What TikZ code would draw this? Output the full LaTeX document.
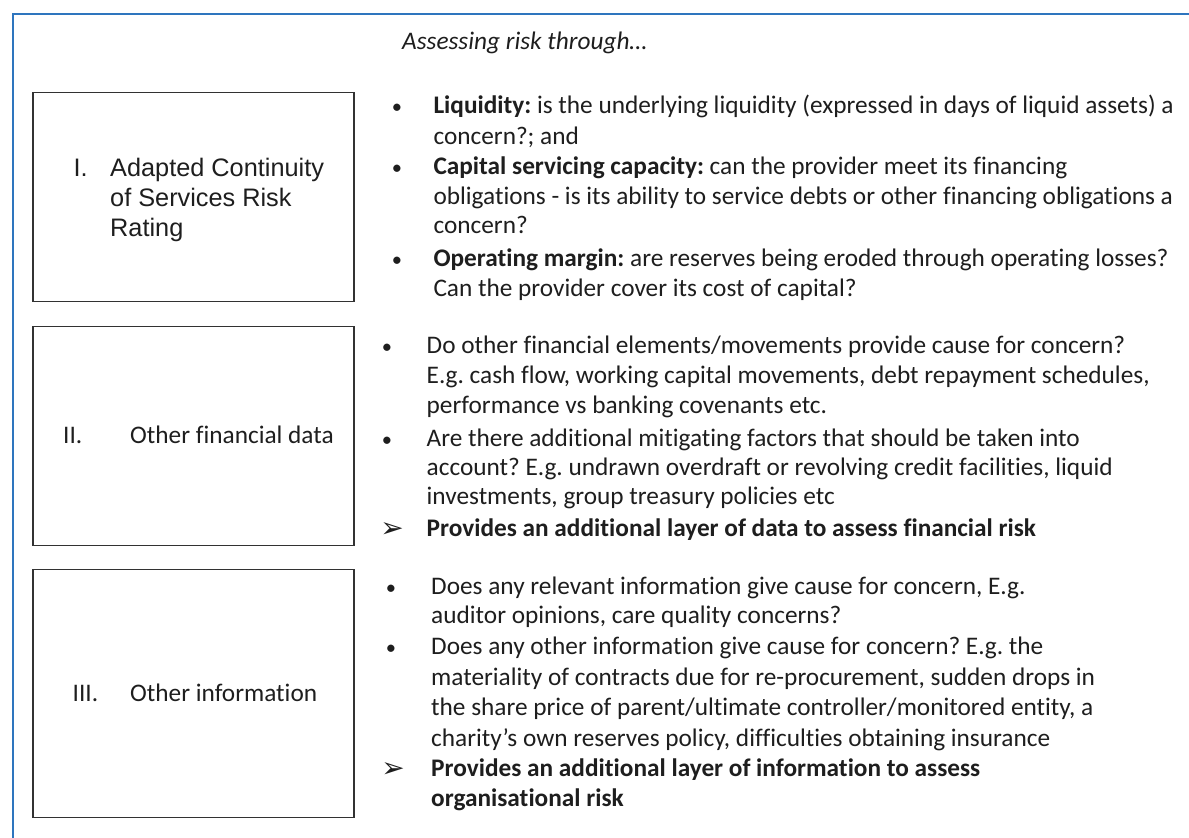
\documentclass[tikz,border=0pt]{standalone}
\usepackage{fontspec}
\setmainfont{Carlito}[Ligatures=NoCommon]
\newfontfamily\arialf{Liberation Sans}
\newfontfamily\symf{DejaVu Sans}
\definecolor{frameblue}{RGB}{46,117,190}
\definecolor{txt}{RGB}{30,30,30}
\definecolor{boxline}{RGB}{50,50,50}
\newcommand{\bodyfont}{\frenchspacing\fontsize{25.3}{30}\selectfont}
\newcommand{\labfont}{\frenchspacing\arialf\fontsize{25.3}{30}\selectfont}
\tikzset{
  body/.style={anchor=base west, inner sep=0pt, font=\bodyfont, text=txt},
  lab/.style={anchor=base west, inner sep=0pt, font=\labfont, text=txt},
  bul/.style={anchor=base, inner sep=0pt, font=\fontsize{20.5}{22}\selectfont, text=txt},
  arr/.style={anchor=base, inner sep=0pt, font=\symf\fontsize{28}{30}\selectfont, text=txt},
  catbox/.style={draw=boxline, line width=1.3pt},
  frameline/.style={draw=frameblue, line width=2pt}
}
\begin{document}
\begin{tikzpicture}[x=1pt,y=-1pt]
\useasboundingbox (0,0) rectangle (1189,838);
\fill[white] (0,0) rectangle (1189,838);
% outer frame
\coordinate (ftr) at (1189,14);
\coordinate (ftl) at (13,14);
\coordinate (fbl) at (13,838);
\draw[frameline] (ftr) -- (ftl) -- (fbl);

\node[body, font=\bodyfont\itshape] (title) at (402,49.3) {Assessing risk through…};

% category boxes
\draw[catbox] (33,92.5) rectangle (354,301.5);
\draw[catbox] (33,326.7) rectangle (354,545.8);
\draw[catbox] (33,569.5) rectangle (354,817.7);

\node[lab] (c1n) at (73.5,176.7) {I.};
\node[lab] (c1a) at (110,176.7) {Adapted Continuity};
\node[lab] (c1b) at (110,206.5) {of Services Risk};
\node[lab] (c1c) at (110,236.3) {Rating};

\node[body] (c2n) at (63,443.3) {II.};
\node[body] (c2a) at (130,443.3) {Other financial data};

\node[body] (c3n) at (72.5,701.7) {III.};
\node[body] (c3a) at (130,701.7) {Other information};

% section I
\node[bul] (p1) at (397,113.5) {•};
\node[body] (s1a) at (433.3,113.5) {\textbf{Liquidity:} is the underlying liquidity (expressed in days of liquid assets) a};
\node[body] (s1b) at (433.3,144) {concern?; and};
\node[bul] (p2) at (397,174) {•};
\node[body] (s1c) at (433.3,174) {\textbf{Capital servicing capacity:} can the provider meet its financing};
\node[body] (s1d) at (433.3,204) {obligations - is its ability to service debts or other financing obligations a};
\node[body] (s1e) at (433.3,233.8) {concern?};
\node[bul] (p3) at (397,266.7) {•};
\node[body] (s1f) at (433.3,266.7) {\textbf{Operating margin:} are reserves being eroded through operating losses?};
\node[body] (s1g) at (433.3,296) {Can the provider cover its cost of capital?};

% section II
\node[bul] (q1) at (387,353.7) {•};
\node[body] (s2a) at (426.5,353.7) {Do other financial elements/movements provide cause for concern?};
\node[body] (s2b) at (426.5,383.7) {E.g. cash flow, working capital movements, debt repayment schedules,};
\node[body] (s2c) at (426.5,413.7) {performance vs banking covenants etc.};
\node[bul] (q2) at (387,446) {•};
\node[body] (s2d) at (426.5,446) {Are there additional mitigating factors that should be taken into};
\node[body] (s2e) at (426.5,475.2) {account? E.g. undrawn overdraft or revolving credit facilities, liquid};
\node[body] (s2f) at (426.5,504.5) {investments, group treasury policies etc};
\node[arr] (q3) at (392,537) {➢};
\node[body] (s2g) at (426.5,536.5) {\textbf{Provides an additional layer of data to assess financial risk}};

% section III
\node[bul] (r1) at (391,594) {•};
\node[body] (s3a) at (431,594) {Does any relevant information give cause for concern, E.g.};
\node[body] (s3b) at (431,623) {auditor opinions, care quality concerns?};
\node[bul] (r2) at (391,654.7) {•};
\node[body] (s3c) at (431,654.7) {Does any other information give cause for concern? E.g. the};
\node[body] (s3d) at (431,685) {materiality of contracts due for re-procurement, sudden drops in};
\node[body] (s3e) at (431,715) {the share price of parent/ultimate controller/monitored entity, a};
\node[body] (s3f) at (431,746) {charity’s own reserves policy, difficulties obtaining insurance};
\node[arr] (r3) at (393,777) {➢};
\node[body] (s3g) at (431,776) {\textbf{Provides an additional layer of information to assess}};
\node[body] (s3h) at (431,806.5) {\textbf{organisational risk}};
\end{tikzpicture}
\end{document}
